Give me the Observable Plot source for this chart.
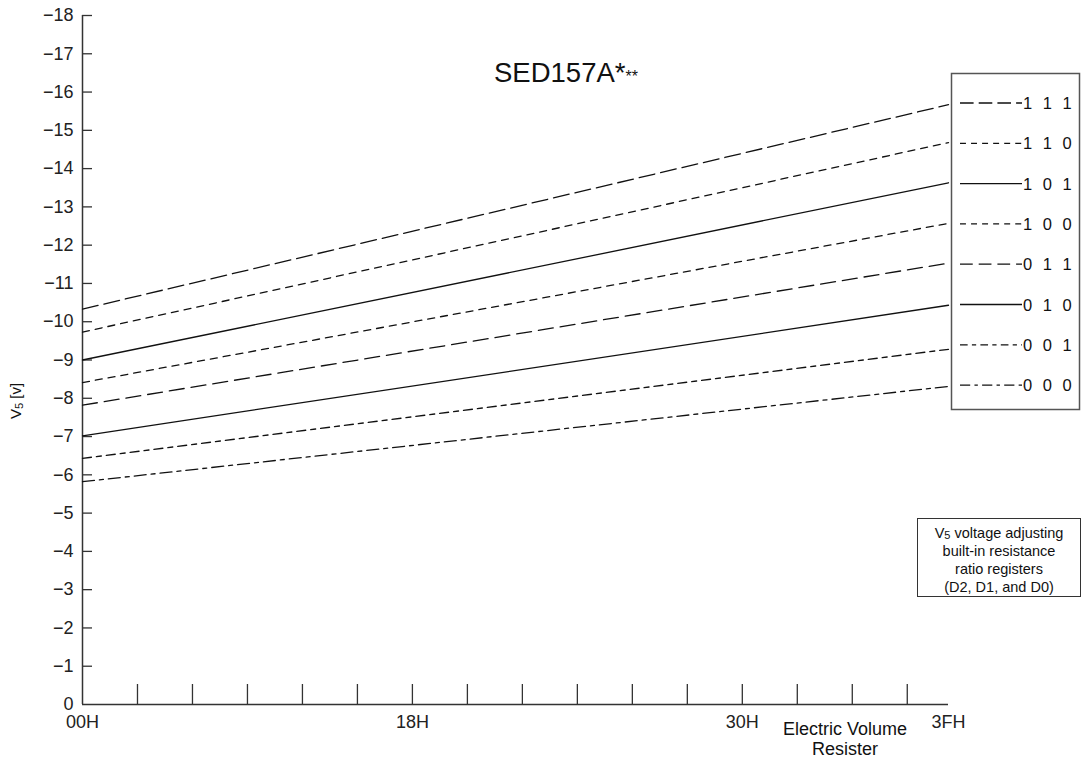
<!DOCTYPE html>
<html><head><meta charset="utf-8">
<script src="https://cdn.jsdelivr.net/npm/d3@7"></script>
<script src="https://cdn.jsdelivr.net/npm/@observablehq/plot@0.6"></script>
<style>
body{margin:0;background:#fff;}
#chart{position:relative;width:1088px;height:760px;}
</style>
</head><body><div id="chart"></div>
<script>
// ---- data ----
const codes = ["1 1 1", "1 1 0", "1 0 1", "1 0 0", "0 1 1", "0 1 0", "0 0 1", "0 0 0"];
const valuesAt00H = [-10.33, -9.73, -9.00, -8.41, -7.82, -7.02, -6.43, -5.82];
const valuesAt3FH = [-15.67, -14.68, -13.63, -12.57, -11.53, -10.43, -9.28, -8.31];
const xStart = 0, xEnd = 63;
const xLabelTicks = [0, 24, 48, 63];
const xLabels = ["00H", "18H", "30H", "3FH"];
const xMinorTicks = [4, 8, 12, 16, 20, 24, 28, 32, 36, 40, 44, 48, 52, 56, 60];
const yTicks = [-1, -2, -3, -4, -5, -6, -7, -8, -9, -10, -11, -12, -13, -14, -15, -16, -17, -18];
const yLabelTicks = [0, ...yTicks];

// ---- styles ----
const dashes = ["16,6", "7,6", null, "7,6", "15,7", null, "9,5,5,5", "12,5,4,5"];
const FONT = "'Liberation Sans', Arial, sans-serif";

const rows = codes.flatMap((c, i) => [
  {code: c, x: xStart, v: valuesAt00H[i]},
  {code: c, x: xEnd, v: valuesAt3FH[i]}
]);

const lineMarks = codes.map((c, i) => Plot.line(rows.filter(r => r.code === c), {
  x: "x", y: "v", stroke: "#111", strokeWidth: 1.3,
  strokeDasharray: dashes[i] || undefined
}));

const plot = Plot.plot({
  width: 1088, height: 760,
  marginLeft: 82, marginRight: 140, marginTop: 15, marginBottom: 56,
  x: {domain: [xStart, xEnd]},
  y: {domain: [0, -18]},
  style: {fontFamily: FONT, fontSize: "17px", color: "#222", background: "#fff", overflow: "visible"},
  marks: [
    Plot.axisY(yLabelTicks, {tickSize: 0, tickPadding: 9, label: null, fontSize: 18, fill: "#222"}),
    Plot.axisY(yTicks, {tickSize: -10, text: null, label: null, stroke: "#333", strokeWidth: 1.3}),
    Plot.axisX(xMinorTicks, {tickSize: -20, text: null, label: null, stroke: "#333", strokeWidth: 1.3}),
    Plot.axisX(xLabelTicks, {tickSize: 0, tickPadding: 11, label: null, fontSize: 18, fill: "#222",
      tickFormat: d => xLabels[xLabelTicks.indexOf(d)]}),
    Plot.ruleX([xStart], {stroke: "#333", strokeWidth: 1.5}),
    Plot.ruleY([0], {stroke: "#333", strokeWidth: 1.5}),
    ...lineMarks
  ]
});
document.getElementById("chart").appendChild(plot);

// ---- annotations ----
const svg = d3.select(plot);
const g = svg.append("g").attr("font-family", FONT).attr("fill", "#111");

// title
const t = g.append("text").attr("x", 566).attr("y", 82).attr("text-anchor", "middle").attr("font-size", 27.5);
t.append("tspan").text("SED157A*");
t.append("tspan").attr("font-size", 16).text("**");

// y-axis label
const yl = g.append("text").attr("transform", "translate(21,401) rotate(-90)")
  .attr("text-anchor", "middle").attr("font-size", 15);
yl.append("tspan").text("V");
yl.append("tspan").attr("font-size", 11).attr("dy", 2).text("5");
yl.append("tspan").attr("dy", -2).text(" [v]");

// x-axis title
g.append("text").attr("x", 845).attr("y", 735).attr("text-anchor", "middle").attr("font-size", 18).text("Electric Volume");
g.append("text").attr("x", 845).attr("y", 755).attr("text-anchor", "middle").attr("font-size", 18).text("Resister");

// legend
g.append("rect").attr("x", 951.5).attr("y", 73.5).attr("width", 128).attr("height", 336)
  .attr("fill", "#fff").attr("stroke", "#555").attr("stroke-width", 1.5);
codes.forEach((c, i) => {
  const y = 103 + i * 40.3;
  g.append("line").attr("x1", 960).attr("x2", 1022).attr("y1", y).attr("y2", y)
    .attr("stroke", "#111").attr("stroke-width", 1.3)
    .attr("stroke-dasharray", dashes[i] ? dashes[i].split(",").map(d => d * 0.85).join(",") : null);
  g.append("text").attr("x", 1023).attr("y", y + 6).attr("font-size", 16.5)
    .attr("text-anchor", "start").attr("letter-spacing", 3).text(c);
});

// register note box
g.append("rect").attr("x", 917.5).attr("y", 518.5).attr("width", 163).attr("height", 78)
  .attr("fill", "#fff").attr("stroke", "#333").attr("stroke-width", 1);
const noteLines = ["voltage adjusting", "built-in resistance", "ratio registers", "(D2, D1, and D0)"];
noteLines.forEach((s, i) => {
  const tx = g.append("text").attr("x", 999).attr("y", 538 + i * 18).attr("text-anchor", "middle").attr("font-size", 14.5);
  if (i === 0) {
    tx.append("tspan").text("V");
    tx.append("tspan").attr("font-size", 11).attr("dy", 1).text("5");
    tx.append("tspan").attr("dy", -1).text(" " + s);
  } else {
    tx.text(s);
  }
});
</script>
</body></html>
